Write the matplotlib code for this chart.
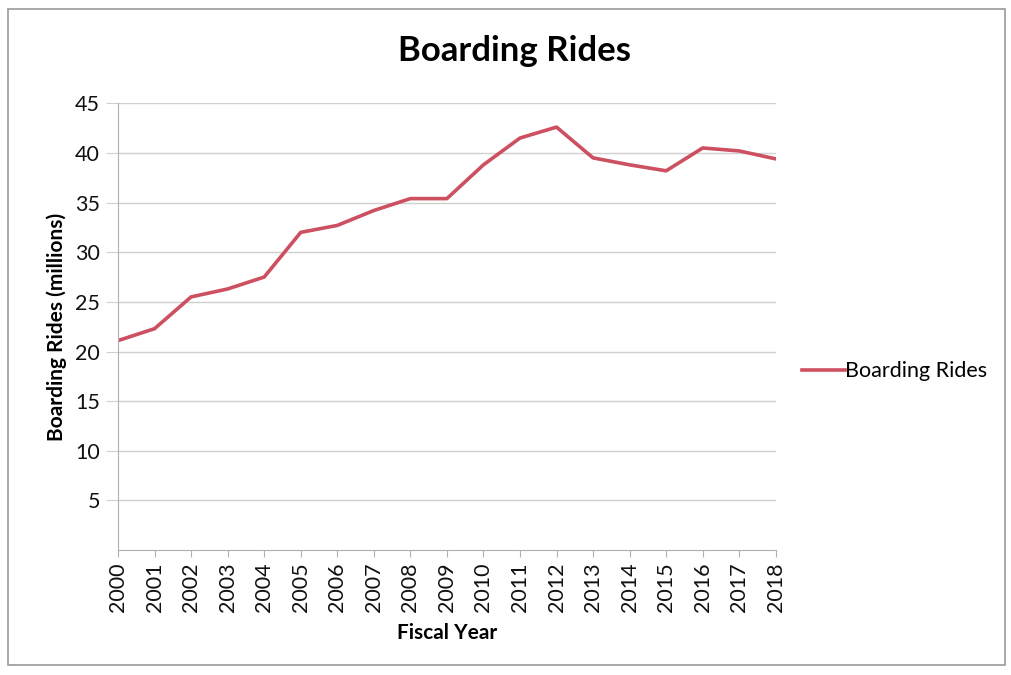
import matplotlib
matplotlib.use("Agg")
import matplotlib.pyplot as plt
from matplotlib.patches import Rectangle

plt.rcParams['font.family'] = ['Lato', 'DejaVu Sans']

years = [str(y) for y in range(2000, 2019)]
rides = [21.1, 22.3, 25.5, 26.3, 27.5, 32.0, 32.7, 34.2, 35.4, 35.4,
         38.8, 41.5, 42.6, 39.5, 38.8, 38.2, 40.5, 40.2, 39.4]
y_ticks = [5, 10, 15, 20, 25, 30, 35, 40, 45]

fig = plt.figure(figsize=(10.12, 6.75), dpi=100)
fig.patch.set_facecolor('white')

# outer chart border
fig.patches.append(Rectangle((0.008, 0.015), 0.985, 0.972, transform=fig.transFigure,
                             fill=False, edgecolor='#9a9a9a', linewidth=1.2))

ax = fig.add_axes([0.1166, 0.185, 0.650, 0.662])
x = list(range(len(years)))
ax.plot(x, rides, color='#CD5060', linewidth=2.6, label='Boarding Rides')

ax.set_xlim(0, len(years) - 1)
ax.set_ylim(0, 45)
ax.set_yticks(y_ticks)
ax.set_xticks(x)
ax.set_xticklabels(years, rotation=90)
ax.grid(axis='y', color='#d0d0d0', linewidth=1)
ax.set_axisbelow(True)

for side in ['top', 'right']:
    ax.spines[side].set_visible(False)
for side in ['left', 'bottom']:
    ax.spines[side].set_color('#b0b0b0')
ax.tick_params(axis='y', length=9, color='#d0d0d0', labelsize=15.5, pad=4,
               labelcolor='#111111')
ax.tick_params(axis='x', length=5, color='#b0b0b0', labelsize=15.5, pad=4,
               labelcolor='#111111')

ax.set_ylabel('Boarding Rides (millions)', fontsize=15, fontweight='bold', labelpad=6)
ax.set_xlabel('Fiscal Year', fontsize=15, fontweight='bold', labelpad=8)
fig.text(0.508, 0.925, 'Boarding Rides', ha='center', va='center',
         fontsize=25, fontweight='bold')

ax.legend(loc='center left', bbox_to_anchor=(1.01, 0.40), frameon=False,
          fontsize=15.5, handlelength=2.0, handletextpad=0.0)

fig.savefig('out.png', dpi=100)
